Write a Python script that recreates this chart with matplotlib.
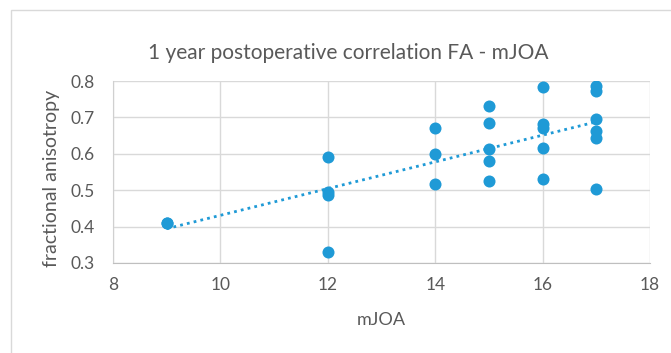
import matplotlib.pyplot as plt
import numpy as np
from matplotlib.patches import Rectangle

# mJOA score vs fractional anisotropy, 1 year after surgery
mjoa = [9, 9,
        12, 12, 12, 12,
        14, 14, 14,
        15, 15, 15, 15, 15,
        16, 16, 16, 16, 16,
        17, 17, 17, 17, 17, 17]
fa = [0.409, 0.411,
      0.590, 0.495, 0.488, 0.330,
      0.671, 0.600, 0.517,
      0.731, 0.685, 0.614, 0.581, 0.525,
      0.784, 0.682, 0.671, 0.617, 0.531,
      0.786, 0.772, 0.696, 0.663, 0.643, 0.503]

blue = '#1f9ad6'
grey_text = '#595959'

plt.rcParams['font.family'] = ['Lato', 'DejaVu Sans']

fig = plt.figure(figsize=(6.71, 3.53), dpi=100)
fig.patches.append(Rectangle((11 / 671, -0.05), 1.1, 1 - 10 / 353 + 0.05,
                             transform=fig.transFigure, fill=False,
                             edgecolor='#d9d9d9', linewidth=1))
ax = fig.add_axes([0.1684, 0.255, 0.8003, 0.5155])

ax.scatter(mjoa, fa, s=75, color=blue, zorder=3, linewidths=0)

# linear trendline
slope, intercept = np.polyfit(mjoa, fa, 1)
tx = np.array([min(mjoa), max(mjoa)])
ax.plot(tx, slope * tx + intercept, color=blue, linestyle=(0, (1, 1.5)),
        linewidth=2, zorder=2)

ax.set_xlim(8, 18)
ax.set_ylim(0.3, 0.8)
ax.set_xticks(np.arange(8, 19, 2))
ax.set_yticks(np.arange(0.3, 0.81, 0.1))
ax.set_yticklabels(['0.3', '0.4', '0.5', '0.6', '0.7', '0.8'])
ax.grid(True, color='#d9d9d9', linewidth=1)
ax.set_axisbelow(True)
for side in ['top', 'right']:
    ax.spines[side].set_visible(False)
ax.spines['left'].set_color('#d0d0d0')
ax.spines['bottom'].set_color('#bfbfbf')
ax.tick_params(length=0, labelsize=12.5, colors=grey_text)
ax.tick_params(axis='y', pad=13)
ax.tick_params(axis='x', pad=10)

fig.text(381 / 671, 1 - 320 / 353, 'mJOA', fontsize=13, color=grey_text,
         ha='center', va='center')
fig.text(52 / 671, 1 - 178 / 353, 'fractional anisotropy', fontsize=14,
         color=grey_text, rotation=90, ha='center', va='center')
fig.text(348 / 671, 1 - 53 / 353, '1 year postoperative correlation FA - mJOA',
         fontsize=15, color=grey_text, ha='center', va='center')

fig.savefig('out.png', dpi=100)
